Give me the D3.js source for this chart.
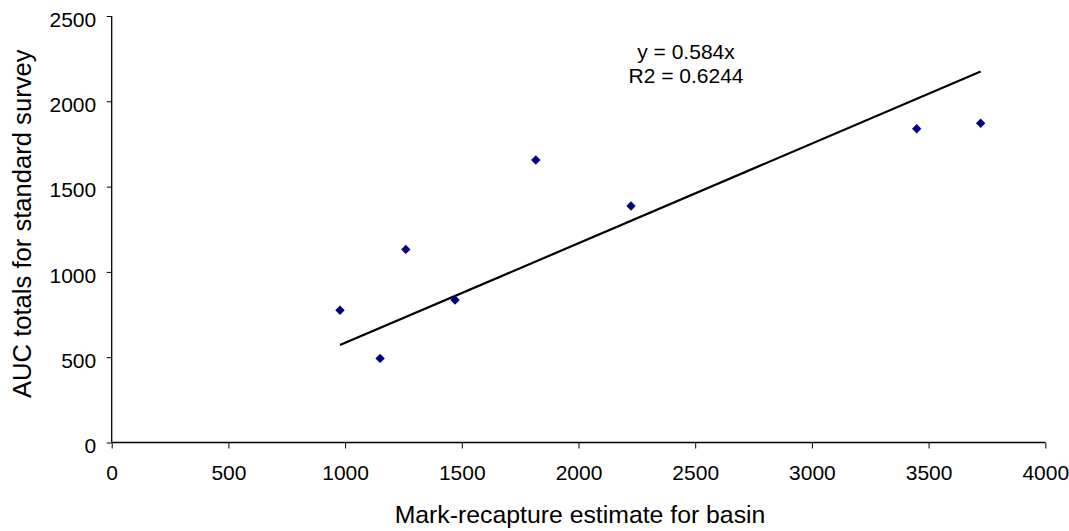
<!DOCTYPE html>
<html><head><meta charset="utf-8">
<script src="https://cdn.jsdelivr.net/npm/d3@7"></script>
<style>body{margin:0;background:#fff}svg{display:block}text{font-family:"Liberation Sans",Arial,sans-serif}</style>
</head><body>
<script>
const xValues = [978, 1150, 1260, 1471, 1817, 2225, 3449, 3723];
const yValues = [775, 493, 1132, 835, 1656, 1386, 1839, 1871];
const slope = 0.584;
const xTicks = [0,500,1000,1500,2000,2500,3000,3500,4000];
const yTicks = [0,500,1000,1500,2000,2500];
const eqLabels = ["y = 0.584x", "R2 = 0.6244"];

const W=1069,H=531;
const svg=d3.select("body").append("svg").attr("width",W).attr("height",H);
const x=d3.scaleLinear().domain([0,4000]).range([111.7,1045.3]);
const y=d3.scaleLinear().domain([0,2500]).range([442.5,16]);

const gx=svg.append("g").attr("transform","translate(0,442.5)")
  .call(d3.axisBottom(x).tickValues(xTicks).tickSize(6).tickPadding(16.5).tickFormat(d3.format("d")));
const gy=svg.append("g").attr("transform","translate(111.7,0)")
  .call(d3.axisLeft(y).tickValues(yTicks).tickSize(5).tickPadding(10.5).tickFormat(d3.format("d")));
[gx,gy].forEach(g=>{
  g.attr("font-size",null).attr("font-family",null);
  g.select(".domain").attr("stroke","#000").attr("stroke-width",1.3);
  g.selectAll(".tick line").attr("stroke","#000");
  g.selectAll(".tick text").style("font-size","21px").attr("fill","#000");
});
gy.selectAll(".tick text").attr("dy","0.49em");
gx.select(".domain").attr("d",`M${x(0)},0H${x(4000)}`);
gy.select(".domain").attr("d",`M0,${y(0)}V${y(2500)}`);

const xmin=d3.min(xValues), xmax=d3.max(xValues);
svg.append("line").attr("x1",x(xmin)).attr("y1",y(slope*xmin)).attr("x2",x(xmax)).attr("y2",y(slope*xmax))
  .attr("stroke","#000").attr("stroke-width",2.2);

const sym=d3.symbol().type(d3.symbolSquare).size(44);
svg.selectAll(".pt").data(xValues).enter().append("path")
  .attr("d",sym).attr("fill","#000080")
  .attr("transform",(d,i)=>`translate(${x(d)},${y(yValues[i])}) rotate(45)`);

svg.selectAll(".eq").data(eqLabels).enter().append("text")
  .attr("x",686).attr("y",(d,i)=>59+i*24).attr("text-anchor","middle").style("font-size","21px").text(d=>d);

svg.append("text").attr("x",580).attr("y",522.5).attr("text-anchor","middle").style("font-size","24.8px").text("Mark-recapture estimate for basin");

svg.append("clipPath").attr("id","ytclip").append("rect").attr("x",0).attr("y",50).attr("width",60).attr("height",481);
svg.append("g").attr("clip-path","url(#ytclip)")
  .append("text").attr("transform","translate(31,398) rotate(-90)").attr("text-anchor","start").style("font-size","25.6px").text("AUC totals for standard surveys");
</script>
</body></html>
